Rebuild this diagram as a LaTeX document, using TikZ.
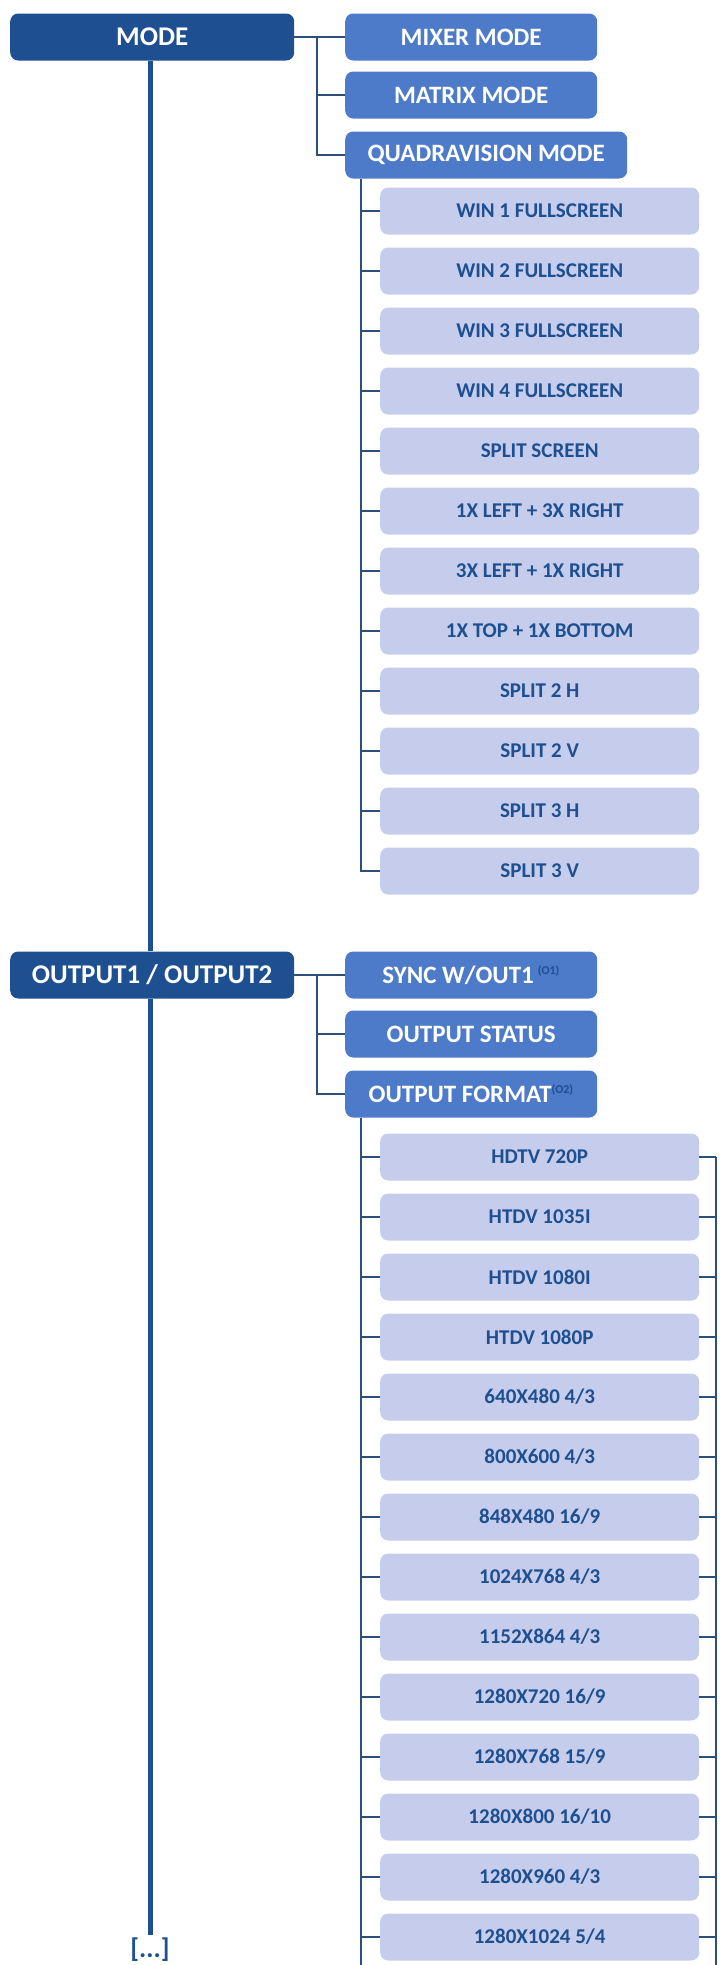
\documentclass[tikz,border=0pt]{standalone}
\usepackage{fontspec}
\setmainfont{Carlito}
\begin{document}
\begin{tikzpicture}[x=1pt,y=-1pt]
\definecolor{dk}{HTML}{1D4F91}
\definecolor{md}{HTML}{4E7BC9}
\definecolor{lt}{HTML}{C6CDEC}
\definecolor{ln}{HTML}{2C4F7C}
\tikzset{
 box/.style={rounded corners=8pt,inner sep=0pt,anchor=west},
 l1/.style={box,fill=dk,text=white,minimum width=284pt,minimum height=47pt,font=\bfseries\fontsize{27}{27}\selectfont},
 l2/.style={box,fill=md,text=white,minimum width=252pt,minimum height=47pt,font=\bfseries\fontsize{25}{25}\selectfont},
 l3/.style={box,fill=lt,text=dk,minimum width=319pt,minimum height=47pt,font=\bfseries\fontsize{21}{21}\selectfont},
 ln/.style={draw=ln,line width=2.2pt},
 trunk/.style={draw=dk,line width=5pt}
}
\useasboundingbox (0,0) rectangle (723,1965);
% level 1
\node[l1] (mode) at (10,37) {MODE};
\node[l1] (out) at (10,975) {OUTPUT1 / OUTPUT2};
\node[text=dk,font=\bfseries\fontsize{27}{27}\selectfont] (dots) at (150,1950) {[...]};
% level 2
\node[l2] (mix) at (345,37) {MIXER MODE};
\node[l2] (mat) at (345,95) {MATRIX MODE};
\node[l2,minimum width=282pt] (quad) at (345,155) {QUADRAVISION MODE};
\node[l2] (sync) at (345,975) {SYNC W/OUT1\,\textsuperscript{\color{dk}\fontsize{12}{12}\selectfont(O1)}};
\node[l2] (stat) at (345,1034) {OUTPUT STATUS};
\node[l2] (fmt) at (345,1094) {OUTPUT FORMAT\textsuperscript{\color{dk}\fontsize{12}{12}\selectfont(O2)}};
% trunk
\draw[trunk] (mode.south -| 150,0) -- (out.north -| 150,0);
\draw[trunk] (out.south -| 150,0) -- (dots.north);
% mode branch
\coordinate (mj) at (317,37);
\draw[ln] (mode.east) -- (mix.west);
\draw[ln] (mj) |- (quad.west);
\draw[ln] (mj |- mat.west) -- (mat.west);
% quad children
\foreach \t [count=\i from 0] in {WIN 1 FULLSCREEN,WIN 2 FULLSCREEN,WIN 3 FULLSCREEN,WIN 4 FULLSCREEN,SPLIT SCREEN,1X LEFT + 3X RIGHT,3X LEFT + 1X RIGHT,1X TOP + 1X BOTTOM,SPLIT 2 H,SPLIT 2 V,SPLIT 3 H,SPLIT 3 V}{
 \node[l3] (q\i) at (380,211+60*\i) {\t};
 \draw[ln] (361,211+60*\i) -- (q\i.west);
}
\draw[ln] (quad.south -| 361,0) -- (361,871) -- (q11.west);
% output branch
\coordinate (oj) at (317,975);
\draw[ln] (out.east) -- (sync.west);
\draw[ln] (oj) |- (fmt.west);
\draw[ln] (oj |- stat.west) -- (stat.west);
\foreach \t [count=\i from 0] in {HDTV 720P,HTDV 1035I,HTDV 1080I,HTDV 1080P,640X480 4/3,800X600 4/3,848X480 16/9,1024X768 4/3,1152X864 4/3,1280X720 16/9,1280X768 15/9,1280X800 16/10,1280X960 4/3,1280X1024 5/4}{
 \node[l3] (f\i) at (380,1157+60*\i) {\t};
 \draw[ln] (361,1157+60*\i) -- (f\i.west);
 \draw[ln] (f\i.east) -- (716,1157+60*\i);
}
\coordinate (fe) at (361,1965);
\coordinate (re) at (716,1965);
\draw[ln] (fmt.south -| 361,0) -- (fe);
\draw[ln] (716,1157) -- (re);
\end{tikzpicture}
\end{document}
